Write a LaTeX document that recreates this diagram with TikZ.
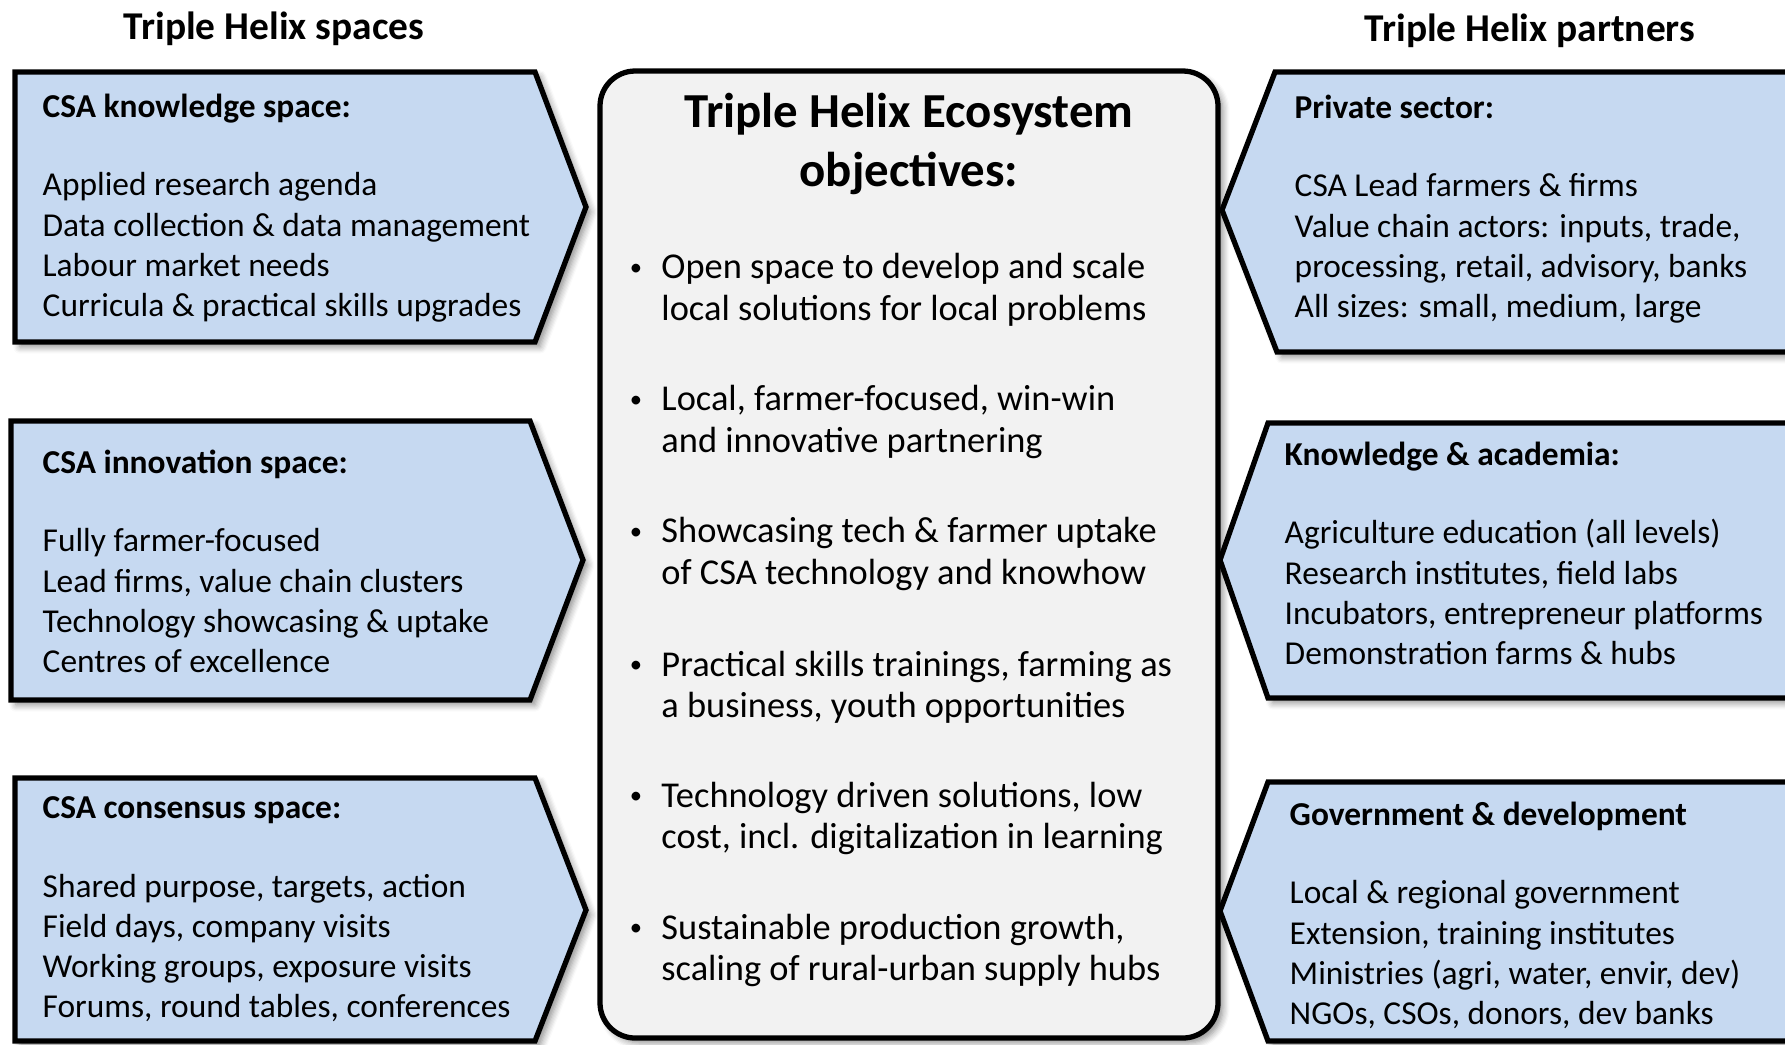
\documentclass[tikz,border=0pt]{standalone}
\usepackage{fontspec}
\setmainfont{Carlito}
\usepackage{tikz}
\usetikzlibrary{shadows.blur}
\usepackage{xcolor}
\definecolor{helixblue}{RGB}{198,217,241}
\definecolor{goalgray}{RGB}{242,242,242}

\tikzset{
  spacebox/.style={draw=black, line width=1.5pt, line join=miter, fill=helixblue,
    blur shadow={shadow xshift=1.4pt, shadow yshift=-1.4pt, shadow blur steps=6, shadow opacity=45}},
  goalbox/.style={draw=black, line width=1.5pt, fill=goalgray, rounded corners=10pt,
    blur shadow={shadow xshift=1.4pt, shadow yshift=-1.4pt, shadow blur steps=6, shadow opacity=45}},
  headtext/.style={inner sep=0pt, font=\bfseries\fontsize{11.2}{13.4}\selectfont},
  boxtext/.style={anchor=north west, inner sep=0pt, align=left, font=\fontsize{9.5}{11.4}\selectfont},
  goaltitle/.style={anchor=north, inner sep=0pt, align=center, font=\bfseries\fontsize{13.9}{16.8}\selectfont},
  goaltext/.style={anchor=north west, inner sep=0pt, align=left, font=\fontsize{10.35}{11.8}\selectfont}
}
\newcommand{\objdot}{\raisebox{0.22ex}{\fontsize{7}{7}\selectfont\textbullet}}
\newcommand{\objline}[2]{\makebox[9.6pt][l]{\hspace{0.6pt}\objdot}#1\\\hspace*{9.6pt}#2}

\begin{document}
\begin{tikzpicture}[x=0.01cm, y=-0.01cm]
\useasboundingbox (0,0) rectangle (1785,1044);
\clip (0,0) rectangle (1785,1044);

% Column headings
\node[headtext] (lefthead) at (274,29) {Triple Helix spaces};
\node[headtext] (righthead) at (1530,31) {Triple Helix partners};

% Ecosystem box
\draw[goalbox] (600,71) rectangle (1218,1038);
\node[goaltitle] (goalhead) at (909,92) {Triple Helix Ecosystem\\objectives:};

\node[goaltext] (goal1) at (627,253) {\objline{Open space to develop and scale}{local solutions for local problems}};
\node[goaltext] (goal2) at (627,385) {\objline{Local, farmer-focused, win-win}{and innovative partnering}};
\node[goaltext] (goal3) at (627,517) {\objline{Showcasing tech \& farmer uptake}{of CSA technology and knowhow}};
\node[goaltext] (goal4) at (627,650) {\objline{Practical skills trainings, farming as}{a business, youth opportunities}};
\node[goaltext] (goal5) at (627,781) {\objline{Technology driven solutions, low}{cost, incl. digitalization in learning}};
\node[goaltext] (goal6) at (627,913) {\objline{Sustainable production growth,}{scaling of rural-urban supply hubs}};

% Spaces (left)
\draw[spacebox] (15,72) -- (535,72) -- (586,207) -- (535,342) -- (15,342) -- cycle;
\draw[spacebox] (11,421) -- (530,421) -- (583,560) -- (530,700) -- (11,700) -- cycle;
\draw[spacebox] (15,778) -- (535,778) -- (586,910) -- (535,1041) -- (15,1041) -- cycle;

\node[boxtext] (knowledge) at (42,93) {\textbf{CSA knowledge space:}\\[11pt]
  Applied research agenda\\ Data collection \& data management\\
  Labour market needs\\ Curricula \& practical skills upgrades};
\node[boxtext] (innovation) at (42,449) {\textbf{CSA innovation space:}\\[11pt]
  Fully farmer-focused\\ Lead firms, value chain clusters\\
  Technology showcasing \& uptake\\ Centres of excellence};
\node[boxtext] (consensus) at (42,796) {\textbf{CSA consensus space:}\\[11pt]
  Shared purpose, targets, action\\ Field days, company visits\\
  Working groups, exposure visits\\ Forums, round tables, conferences};

% Partners (right)
\draw[spacebox] (1800,72) -- (1275,72) -- (1222,210) -- (1277,352) -- (1800,352) -- cycle;
\draw[spacebox] (1800,423) -- (1268,423) -- (1220,560) -- (1268,698) -- (1800,698) -- cycle;
\draw[spacebox] (1800,782) -- (1268,782) -- (1220,911) -- (1268,1041) -- (1800,1041) -- cycle;

\node[boxtext] (private) at (1294,94) {\textbf{Private sector:}\\[11pt]
  CSA Lead farmers \& firms\\ Value chain actors: inputs, trade,\\
  processing, retail, advisory, banks\\ All sizes: small, medium, large};
\node[boxtext] (academia) at (1284,441) {\textbf{Knowledge \& academia:}\\[11pt]
  Agriculture education (all levels)\\ Research institutes, field labs\\
  Incubators, entrepreneur platforms\\ Demonstration farms \& hubs};
\node[boxtext] (government) at (1289,801) {\textbf{Government \& development}\\[11pt]
  Local \& regional government\\ Extension, training institutes\\
  Ministries (agri, water, envir, dev)\\ NGOs, CSOs, donors, dev banks};
\end{tikzpicture}
\end{document}
